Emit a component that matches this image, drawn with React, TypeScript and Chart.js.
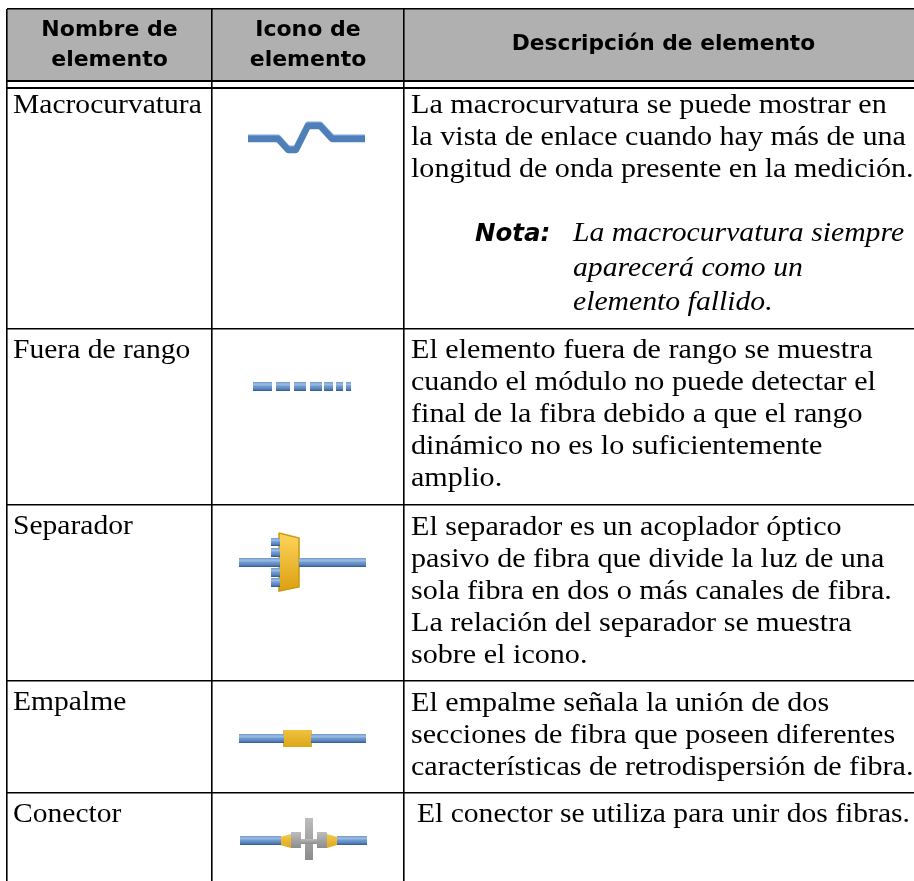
import React, { useEffect, useRef } from "react";
import { Chart, registerables } from "chart.js";
Chart.register(...registerables);

const W = 914, H = 881;
const colEdges = [7, 212, 404, 914];
const rowEdges = [9, 81, 88, 329, 505, 681, 793];
const thickRows = [81, 88];
const headerFill = "#b0b0b0";

const header1 = ["Nombre de", "elemento"];
const header2 = ["Icono de", "elemento"];
const header3 = ["Descripción de elemento"];
const names = ["Macrocurvatura", "Fuera de rango", "Separador", "Empalme", "Conector"];
const desc0 = ["La macrocurvatura se puede mostrar en", "la vista de enlace cuando hay más de una", "longitud de onda presente en la medición."];
const noteLabel = "Nota:";
const noteLines = ["La macrocurvatura siempre", "aparecerá como un", "elemento fallido."];
const desc1 = ["El elemento fuera de rango se muestra", "cuando el módulo no puede detectar el", "final de la fibra debido a que el rango", "dinámico no es lo suficientemente", "amplio."];
const desc2 = ["El separador es un acoplador óptico", "pasivo de fibra que divide la luz de una", "sola fibra en dos o más canales de fibra.", "La relación del separador se muestra", "sobre el icono."];
const desc3 = ["El empalme señala la unión de dos", "secciones de fibra que poseen diferentes", "características de retrodispersión de fibra."];
const desc4 = ["El conector se utiliza para unir dos fibras."];
const descriptions = [desc0, desc1, desc2, desc3, desc4];
const nameBaselines = [113, 358, 534, 710, 822];
const descBaselines = [113, 358, 535, 711, 822];
const descX = [411, 411, 411, 411, 417];
const descStretch = [1.095, 1.095, 1.095, 1.095, 1.076];
const noteBaselines = [241, 276, 310];

const FIBER = ["#6d97cc", "#9fbde2", "#6f9ad0", "#5a86bd", "#2b5a90"];
const GOLD_SPLIT = ["#ffd55c", "#dca010"];
const GOLD_SPLICE = ["#efc23f", "#dca617"];
const GRAY = ["#bdbdbd", "#8c8c8c"];

type Pt = [number, number];
const rect = (x0: number, y0: number, x1: number, y1: number): Pt[] => [[x0, y0], [x1, y0], [x1, y1], [x0, y1], [x0, y0]];

// Icon parts
const macroPath: Pt[] = [[248, 138], [278, 138], [288, 149], [296, 149], [308, 125], [320, 125], [332, 138], [365, 138]];
const rangeDashes: [number, number][] = [[253, 272], [276, 290], [294, 306], [310, 322], [324, 333], [336, 343], [346, 351]];
const fiberSegs: Pt[][] = [
  rect(239, 558, 280, 567), rect(299, 558, 366, 567),
  rect(271, 538, 280, 546), rect(271, 548, 280, 557), rect(271, 568, 280, 577), rect(271, 578, 280, 587),
  rect(239, 734, 284, 743), rect(311, 734, 366, 743),
  rect(240, 836, 281, 845), rect(337, 836, 367, 845),
];
const splitterShape: Pt[] = [[279, 533], [299, 538], [299, 587], [279, 591], [279, 533]];
const spliceShape: Pt[] = rect(283, 730, 312, 747);
const connGold: Pt[][] = [[[280, 837], [291, 834], [291, 848], [280, 845], [280, 837]], [[327, 834], [337, 837], [337, 845], [327, 848], [327, 834]]];
const connGray: Pt[][] = [rect(291, 832, 301, 848), rect(317, 832, 327, 848), rect(301, 839, 317, 844), rect(305, 818, 313, 860)];

export default function App() {
  const ref = useRef<HTMLCanvasElement>(null);
  useEffect(() => {
    const canvas = ref.current!;
    const ctx = canvas.getContext("2d")!;
    const grad = (y0: number, y1: number, cols: string[]) => {
      const g = ctx.createLinearGradient(0, y0, 0, y1);
      cols.forEach((c, i) => g.addColorStop(i / (cols.length - 1), c));
      return g;
    };
    const poly = (pts: Pt[], cols: string[], stroke = "rgba(0,0,0,0)") => {
      const ys = pts.map((p) => p[1]);
      return {
        data: pts.map(([x, y]) => ({ x, y })),
        showLine: true, pointRadius: 0, tension: 0, borderWidth: stroke === "rgba(0,0,0,0)" ? 0 : 1.5,
        borderColor: stroke, fill: "shape",
        backgroundColor: cols.length > 1 ? grad(Math.min(...ys), Math.max(...ys), cols) : cols[0],
      };
    };
    const stroke = (pts: Pt[], color: string, width: number, dy = 0) => ({
      data: pts.map(([x, y]) => ({ x, y: y + dy })),
      showLine: true, pointRadius: 0, tension: 0, borderWidth: width, borderColor: color,
      borderJoinStyle: "round", borderCapStyle: "butt", fill: false,
    });
    const datasets: any[] = [
      poly(rect(colEdges[0], rowEdges[0], colEdges[3], rowEdges[1]), [headerFill]),
      stroke(macroPath, "#4f7fb8", 6.5, 0.9),
      stroke(macroPath, "#7aa5da", 6, -0.6),
      ...rangeDashes.map(([a, b]) => poly(rect(a, 382, b, 391), FIBER)),
      ...fiberSegs.map((s) => poly(s, FIBER)),
      poly(splitterShape, GOLD_SPLIT, "#c89a10"),
      poly(spliceShape, GOLD_SPLICE),
      ...connGold.map((s) => poly(s, ["#f2c84a", "#e0a820"])),
      ...connGray.map((s) => poly(s, GRAY)),
    ];
    const softIcons = {
      id: "softIcons",
      beforeDatasetDraw(chart: any, args: any) {
        if (args.index > 0) { chart.ctx.save(); chart.ctx.filter = "blur(0.6px)"; }
      },
      afterDatasetDraw(chart: any, args: any) {
        if (args.index > 0) chart.ctx.restore();
      },
    };
    const tablePlugin = {
      id: "tableText",
      afterDatasetsDraw(chart: any) {
        const c = chart.ctx;
        const x = chart.scales.x, y = chart.scales.y;
        c.fillStyle = "#000";
        c.textBaseline = "alphabetic";
        c.filter = "blur(0.3px)";
        const put = (t: string, px: number, py: number, font: string, align: any = "left", sx = 1) => {
          c.save();
          c.font = font; c.textAlign = align;
          c.translate(x.getPixelForValue(px), y.getPixelForValue(py));
          c.scale(sx, 1);
          c.fillText(t, 0, 0);
          c.restore();
        };
        const hf = "bold 22px 'DejaVu Sans'";
        const hc = [109.5, 308];
        header1.forEach((t, i) => put(t, hc[0], 36 + i * 30, hf, "center"));
        header2.forEach((t, i) => put(t, hc[1], 36 + i * 30, hf, "center"));
        put(header3[0], 663.5, 50, hf, "center", 0.987);
        const bf = "27.5px 'Liberation Serif'";
        names.forEach((n, i) => put(n, 13, nameBaselines[i], bf, "left", 1.075));
        descriptions.forEach((d, i) => d.forEach((t, k) => put(t, descX[i], descBaselines[i] + k * 32, bf, "left", descStretch[i])));
        put(noteLabel, 475, 241, "italic bold 24.5px 'DejaVu Sans'");
        noteLines.forEach((t, i) => put(t, 573, noteBaselines[i], "italic 27.5px 'Liberation Serif'", "left", 1.08));
        c.filter = "none";
      },
    };
    const chart = new Chart(canvas, {
      type: "scatter",
      data: { datasets },
      options: {
        responsive: false, animation: false, maintainAspectRatio: false,
        layout: { padding: { left: colEdges[0], top: rowEdges[0], right: 0, bottom: 0 } },
        plugins: { legend: { display: false }, tooltip: { enabled: false }, title: { display: false } },
        scales: {
          x: {
            type: "linear", min: colEdges[0], max: W, position: "bottom",
            afterBuildTicks: (s: any) => { s.ticks = colEdges.slice(0, 3).map((value) => ({ value })); },
            ticks: { display: false }, border: { display: false },
            grid: { z: 1, color: "#000", lineWidth: 1.6, drawTicks: false, offset: false },
          },
          y: {
            type: "linear", min: rowEdges[0], max: H, reverse: true, position: "left",
            afterBuildTicks: (s: any) => { s.ticks = rowEdges.map((value) => ({ value })); },
            ticks: { display: false }, border: { display: false },
            grid: { z: 1, color: "#000", lineWidth: (c: any) => (thickRows.includes(c.tick?.value) ? 2 : 1.6), drawTicks: false },
          },
        },
      } as any,
      plugins: [softIcons, tablePlugin],
    });
    return () => chart.destroy();
  }, []);
  return (
    <div style={{ position: "absolute", left: 0, top: 0, width: W, height: H, background: "#fff" }}>
      <canvas ref={ref} width={W} height={H} style={{ display: "block", width: W, height: H }} />
    </div>
  );
}
